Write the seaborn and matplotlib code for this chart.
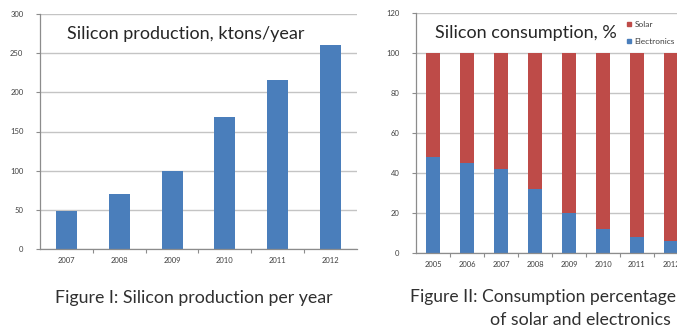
import matplotlib
matplotlib.use("Agg")
import matplotlib.pyplot as plt
import seaborn as sns
import pandas as pd
from matplotlib.lines import Line2D

# ---- data ----
prod_years = ["2007", "2008", "2009", "2010", "2011", "2012"]
prod_values = [48, 70, 100, 168, 216, 260]

cons_years = ["2005", "2006", "2007", "2008", "2009", "2010", "2011", "2012"]
electronics_pct = [48, 45, 42, 32, 20, 12, 8, 6]
solar_pct = [52, 55, 58, 68, 80, 88, 92, 94]

BLUE = "#4A7EBB"
RED = "#BE4B48"
GRID = "#c4c4c4"
AXIS = "#8c8c8c"
FONT = "Lato"

sns.set_theme(style="white")
plt.rcParams["font.family"] = [FONT, "DejaVu Sans"]

W, H = 677, 331
fig = plt.figure(figsize=(W / 100, H / 100), dpi=100)
fig.patch.set_facecolor("white")


def px_axes(x0, x1, ytop, ybot):
    return fig.add_axes([x0 / W, (H - ybot) / H, (x1 - x0) / W, (ybot - ytop) / H])


def style_axes(ax, n, ymax, step):
    ax.set_xlim(-0.5, n - 0.5)
    ax.set_ylim(0, ymax)
    ax.set_yticks(range(0, ymax + 1, step))
    ax.yaxis.grid(True, color=GRID, linewidth=1.0)
    ax.set_axisbelow(True)
    for s in ["top", "right"]:
        ax.spines[s].set_visible(False)
    for s in ["left", "bottom"]:
        ax.spines[s].set_color(AXIS)
        ax.spines[s].set_linewidth(0.9)
    ax.set_xlabel("")
    ax.set_ylabel("")
    ax.tick_params(axis="y", which="major", length=3, width=0.8, color=AXIS,
                   labelsize=5.5, labelcolor="#404040", pad=9, left=True)
    ax.tick_params(axis="x", which="major", length=0, labelsize=5.5,
                   labelcolor="#404040", pad=6, bottom=True)
    ax.set_xticks([i + 0.5 for i in range(n - 1)], minor=True)
    ax.tick_params(axis="x", which="minor", length=3, width=0.8, color=AXIS,
                   bottom=True)


# ---- left chart ----
ax1 = px_axes(40, 357, 14, 249)
df1 = pd.DataFrame({"year": prod_years, "value": prod_values})
sns.barplot(data=df1, x="year", y="value", color=BLUE, saturation=1,
            width=0.4, linewidth=0, ax=ax1)
style_axes(ax1, len(prod_years), 300, 50)
ax1.text(0.085, 0.915, "Silicon production, ktons/year", transform=ax1.transAxes,
         fontsize=13, color="#262626", ha="left", va="center")

# ---- right chart ----
ax2 = px_axes(416, 688, 13, 253)
total = [e + s for e, s in zip(electronics_pct, solar_pct)]
df2 = pd.DataFrame({"year": cons_years, "total": total,
                    "electronics": electronics_pct})
sns.barplot(data=df2, x="year", y="total", color=RED, saturation=1,
            width=0.41, linewidth=0, ax=ax2)
sns.barplot(data=df2, x="year", y="electronics", color=BLUE, saturation=1,
            width=0.41, linewidth=0, ax=ax2)
style_axes(ax2, len(cons_years), 120, 20)
ax2.text(0.07, 0.915, "Silicon consumption, %", transform=ax2.transAxes,
         fontsize=13, color="#262626", ha="left", va="center")

handles = [Line2D([], [], marker="s", linestyle="", color=RED, markersize=3),
           Line2D([], [], marker="s", linestyle="", color=BLUE, markersize=3)]
fig.legend(handles, ["Solar", "Electronics"], loc="upper left",
           bbox_to_anchor=(621 / W, 1 - 17 / H), frameon=False, fontsize=6,
           handletextpad=0.1, labelspacing=1.2, borderpad=0, handlelength=1,
           labelcolor="#404040")

# ---- captions ----
fig.text(55 / W, 1 - 298 / H, "Figure I: Silicon production per year",
         fontsize=12.8, color="#303030", ha="left", va="center")
fig.text(410 / W, 1 - 297 / H, "Figure II: Consumption percentage",
         fontsize=12.6, color="#303030", ha="left", va="center")
fig.text(490 / W, 1 - 320 / H, "of solar and electronics",
         fontsize=12.8, color="#303030", ha="left", va="center")

fig.savefig("out.png", dpi=100, facecolor="white")
